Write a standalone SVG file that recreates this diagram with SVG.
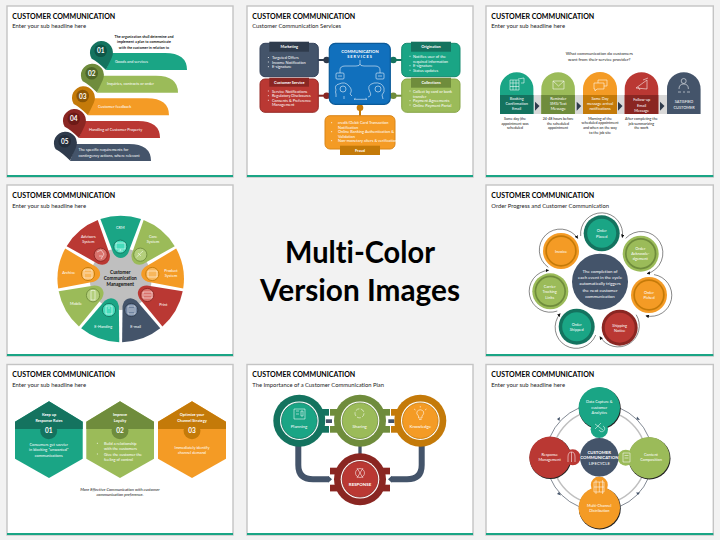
<svg xmlns="http://www.w3.org/2000/svg" width="720" height="540" viewBox="0 0 720 540">
<style>
text{font-family:"Lato","Open Sans","Liberation Sans",sans-serif;dominant-baseline:central;font-variant-ligatures:none}
.f{fill:#fff;stroke:#c4c4c4;stroke-width:1.4}
.t{font-size:7px;font-weight:700;fill:#000}
.s{font-size:6.2px;fill:#1a1a1a}
.c{text-anchor:middle}
.w{fill:#fff;font-size:3.9px}
.w5{fill:#fff;font-size:4.4px}
.k{fill:#111;font-size:3.6px}
.b{font-weight:700}
.ic{fill:none;stroke:#fff;stroke-width:.55}
.bar{fill:#1aa585}
.tl{fill:#1aa585}.td{fill:#14735f}
.gn{fill:#9bbb59}.gd{fill:#6f8c3c}
.or{fill:#f49b25}.od{fill:#c47a09}
.rd{fill:#ba3833}.rk{fill:#8a2622}
.nv{fill:#44546a}.nk{fill:#2f3b4c}
.lk{stroke:#44546a;fill:none}
.arc{fill:none;stroke:#111;stroke-width:.5}
</style>
<defs>
<marker id="ah" viewBox="0 0 6 6" refX="5" refY="3" markerWidth="3.500" markerHeight="3.500" orient="auto" markerUnits="userSpaceOnUse"><path d="M0 0L6 3L0 6Z" fill="#111"/></marker>
<path id="tag" d="M0 0L6 -17H59Q81 -17 81 0Z"/>
<path id="pin" d="M-9 8Q-3 11 5.300 19.300L11 7A11.500 11.500 0 1 0 -9 8Z"/>
<path id="wedge" d="M-20.300 -59.900A63.300 63.300 0 0 1 20.300 -59.900L7.500 -26Q4.500 -21 0 -21Q-4.500 -21 -7.500 -26Z"/>
</defs>
<rect width="720" height="540" fill="#f2f2f2"/>

<g id="slide1">
<rect class="f" x="7" y="6" width="226" height="171"/><rect class="bar" x="7" y="175" width="226" height="2"/>
<text class="t" x="12.300" y="16" textLength="103" lengthAdjust="spacingAndGlyphs">CUSTOMER COMMUNICATION</text><text class="s" x="12.300" y="25.700" textLength="73.700" lengthAdjust="spacingAndGlyphs">Enter your sub headline here</text>
<text class="k b c" x="144" y="36.300">The organization shall determine and</text>
<text class="k b c" x="144" y="41.700">implement a plan to communicate</text>
<text class="k b c" x="144" y="47">with the customer in relation to</text>
<g id="s1n5"><use href="#tag" x="70" y="161" class="nv"/><use href="#pin" x="64.700" y="141.300" class="nk"/><circle cx="64.700" cy="141.300" r="6.300" fill="#232d3b"/><text class="c" x="64.700" y="141.300" fill="#fff" font-size="6.500" font-weight="700">05</text><text class="w" x="78.500" y="149.700">The specific requirements for</text><text class="w" x="78.500" y="155">contingency actions, where relevant</text></g>
<g id="s1n4"><use href="#tag" x="79" y="138" class="rd"/><use href="#pin" x="73.700" y="118.700" class="rk"/><circle cx="73.700" cy="118.700" r="6.300" fill="#6c1a17"/><text class="c" x="73.700" y="118.700" fill="#fff" font-size="6.500" font-weight="700">04</text><text class="w" x="89" y="129">Handling of Customer Property</text></g>
<g id="s1n3"><use href="#tag" x="88" y="115.300" class="or"/><use href="#pin" x="82.700" y="96" class="od"/><circle cx="82.700" cy="96" r="6.300" fill="#8d5705"/><text class="c" x="82.700" y="96" fill="#fff" font-size="6.500" font-weight="700">03</text><text class="w" x="98" y="106.300">Customer feedback</text></g>
<g id="s1n2"><use href="#tag" x="97" y="92.700" class="gn"/><use href="#pin" x="91.700" y="73.300" class="gd"/><circle cx="91.700" cy="73.300" r="6.300" fill="#4f6729"/><text class="c" x="91.700" y="73.300" fill="#fff" font-size="6.500" font-weight="700">02</text><text class="w" x="107" y="83.700">Inquiries, contracts or order</text></g>
<g id="s1n1"><use href="#tag" x="106" y="70" class="tl"/><use href="#pin" x="100.700" y="50.700" class="td"/><circle cx="100.700" cy="50.700" r="6.300" fill="#0e5647"/><text class="c" x="100.700" y="50.700" fill="#fff" font-size="6.500" font-weight="700">01</text><text class="w" x="115" y="61.300">Goods and services</text></g>
</g>

<g id="slide2" transform="translate(240,0)">
<rect class="f" x="7" y="6" width="226" height="171"/><rect class="bar" x="7" y="175" width="226" height="2"/>
<text class="t" x="12.300" y="16" textLength="103" lengthAdjust="spacingAndGlyphs">CUSTOMER COMMUNICATION</text><text class="s" x="12.300" y="25.700" textLength="88.700" lengthAdjust="spacingAndGlyphs">Customer Communication Services</text>
<g id="s2links" fill="none" stroke-width="2">
<path d="M78 60H90" stroke="#2f3b4c"/><circle cx="86.700" cy="60" r="3.300" fill="#2f3b4c"/>
<path d="M78 95.700H90" stroke="#8a2622"/><circle cx="86.700" cy="95.700" r="3.300" fill="#8a2622"/>
<path d="M150 60H162" stroke="#14735f"/><circle cx="153.300" cy="60" r="3.300" fill="#14735f"/>
<path d="M150 95.700H162" stroke="#6f8c3c"/><circle cx="153.300" cy="95.700" r="3.300" fill="#6f8c3c"/>
<path d="M120 104V116" stroke="#c47a09"/><circle cx="120" cy="107.700" r="3.300" fill="#c47a09"/>
</g>
<g id="s2market"><rect x="20" y="43.300" width="58.300" height="33.400" rx="5" class="nv" stroke="#34425a" stroke-width="1"/><rect x="29.300" y="41.700" width="39.700" height="10" class="nk"/><text class="w b c" x="49.300" y="46.500">Marketing</text>
<text class="w" x="32" y="57.500">Targeted Offers</text><text class="w" x="32" y="62">Income Notification</text><text class="w" x="32" y="66.700">E-signature</text><path d="M28.300 57.500h.01M28.300 62h.01M28.300 66.700h.01" stroke="#fff" stroke-width="1" stroke-linecap="round"/></g>
<g id="s2service"><rect x="20" y="79" width="58.300" height="33.300" rx="5" class="rd" stroke="#962a26" stroke-width="1"/><rect x="29.300" y="77.700" width="39.700" height="9" class="rk"/><text class="w b c" x="49.300" y="82">Customer Service</text>
<text class="w" x="32" y="91">Service Notifications</text><text class="w" x="32" y="95.700">Regulatory Disclosures</text><text class="w" x="32" y="100.300">Consents &amp; Preference</text><text class="w" x="32" y="104.700">Management</text><path d="M28.300 91h.01M28.300 95.700h.01M28.300 100.300h.01" stroke="#fff" stroke-width="1" stroke-linecap="round"/></g>
<g id="s2center"><rect x="89.300" y="43.300" width="61" height="61" rx="6" fill="#1170bd" stroke="#0b5a99" stroke-width="1.200"/>
<text class="w b c" x="120" y="51.300" style="font-size:4.200px">COMMUNICATION</text><text class="w b c" x="120" y="56.700" letter-spacing="1">SERVICES</text>
<path class="ic" d="M120 60V64M120 64Q120 66 116 66H105Q100 66 100 70V73M120 64Q120 66 124 66H135Q140 66 140 70V73"/>
<rect class="ic" x="96" y="73" width="8" height="6" rx="1"/><rect class="ic" x="136" y="73" width="8" height="6" rx="1"/><path class="ic" d="M98 76h4M138 76h4"/>
<path class="ic" d="M96 97V94Q95 92 96 90Q94 85 99 84Q105 81 109 86Q113 90 110 94L112 96M104 99V96M128 97Q132 96 130 92Q126 85 134 83Q142 82 144 88Q145 92 142 95L143 99"/>
<circle class="ic" cx="103" cy="89" r="3"/><circle class="ic" cx="138" cy="89" r="3"/>
<path class="ic" d="M114 99.300H127M114 99.300l1.500-1M127 99.300l-1.500-1"/></g>
<g id="s2orig"><rect x="161.700" y="43.300" width="58.300" height="33.400" rx="5" class="tl" stroke="#148a6f" stroke-width="1"/><rect x="171" y="41.700" width="40" height="10" class="td"/><text class="w b c" x="191" y="46.500">Origination</text>
<text class="w" x="173" y="56.300">Notifies user of the</text><text class="w" x="173" y="61">required information</text><text class="w" x="173" y="65.700">E-signature</text><text class="w" x="173" y="70.300">Status updates</text><path d="M170 56.300h.01M170 65.700h.01M170 70.300h.01" stroke="#fff" stroke-width="1" stroke-linecap="round"/></g>
<g id="s2coll"><rect x="161.700" y="79" width="58.300" height="33.300" rx="5" class="gn" stroke="#86a546" stroke-width="1"/><rect x="171" y="77.700" width="40" height="10" class="gd"/><text class="w b c" x="191" y="82.500">Collections</text>
<text class="w" x="173" y="91">Collect by card or bank</text><text class="w" x="173" y="96">transfer</text><text class="w" x="173" y="100.700">Payment Agreements</text><text class="w" x="173" y="105">Online Payment Portal</text><path d="M170 91h.01M170 100.700h.01M170 105h.01" stroke="#fff" stroke-width="1" stroke-linecap="round"/></g>
<g id="s2fraud"><rect x="85" y="115.700" width="70" height="33.300" rx="5" class="or" stroke="#d9861a" stroke-width="1"/><rect x="100" y="145.700" width="40" height="9.300" class="od"/><text class="w b c" x="120" y="150.300">Fraud</text>
<text class="w" x="98" y="122.700">credit/Debit Card Transaction</text><text class="w" x="98" y="127.300">Notification</text><text class="w" x="98" y="131.700">Online Banking Authentication &amp;</text><text class="w" x="98" y="136.300">Validation</text><text class="w" x="98" y="140.700">Non-monetary alters &amp; verification</text><path d="M91.700 122.700h.01M91.700 131.700h.01M91.700 140.700h.01" stroke="#fff" stroke-width="1" stroke-linecap="round"/></g>
</g>

<g id="slide3" transform="translate(480,0)">
<rect class="f" x="6" y="6" width="227.300" height="171"/><rect class="bar" x="6" y="175" width="227.300" height="2"/>
<text class="t" x="11.300" y="16" textLength="103" lengthAdjust="spacingAndGlyphs">CUSTOMER COMMUNICATION</text><text class="s" x="11.300" y="25.700" textLength="73.700" lengthAdjust="spacingAndGlyphs">Enter your sub headline here</text>
<text class="c" x="119.300" y="53" font-size="4.300" fill="#222">What communication do customers</text><text class="c" x="119.300" y="59" font-size="4.300" fill="#222">want from their service provider?</text>
<rect id="s3band" x="20" y="95" width="200" height="19" fill="#d9d9d9"/>
<g id="s3n1"><path class="tl" d="M20 114V89A16.700 16.700 0 0 1 53.400 89V114Z"/><rect class="td" x="20" y="95" width="33.400" height="19"/><text class="w c" x="36.700" y="98.300">Booking</text><text class="w c" x="36.700" y="103.700">Confirmation</text><text class="w c" x="36.700" y="108.700">Email</text>
<path class="ic" d="M30 80H39V90H30ZM30 83H39M33 80V90M36 80V90M30 86.500H39M38 79L44 78V83H41"/></g>
<g id="s3n2"><path class="gn" d="M61.300 114V89A16.800 16.800 0 0 1 94.900 89V114Z"/><rect class="gd" x="61.300" y="95" width="33.600" height="19"/><text class="w c" x="78.300" y="98.300">Reminder</text><text class="w c" x="78.300" y="103.700">SMS/Text</text><text class="w c" x="78.300" y="108.700">Message</text>
<path class="ic" d="M73 81H84V89H73ZM73 81L78.500 86L84 81"/></g>
<g id="s3n3"><path class="or" d="M103 114V89A17 17 0 0 1 137 89V114Z"/><rect class="od" x="103" y="95" width="34" height="19"/><text class="w c" x="120" y="98.300">Same Day</text><text class="w c" x="120" y="103.700">message arrival</text><text class="w c" x="120" y="108.700">notifications</text>
<path class="ic" d="M114 83H124V89H117L115 91V89H114ZM118 83V80H127V86H124"/></g>
<g id="s3n4"><path class="rd" d="M144.700 114V89A16.800 16.800 0 0 1 178.300 89V114Z"/><rect class="rk" x="144.700" y="95" width="33.600" height="19"/><text class="w c" x="161.700" y="99.700">Follow-up</text><text class="w c" x="161.700" y="105">Email</text><text class="w c" x="161.700" y="110.300">Message</text>
<path class="ic" d="M156 88L167 80V89ZM158 87L160 90M163 80L168 78"/></g>
<g id="s3n5"><path class="nv" d="M187 114V89A16.800 16.800 0 0 1 220.600 89V114Z"/><text class="w c" x="204" y="101.300">SATISFIED</text><text class="w c" x="204" y="107.300">CUSTOMER</text>
<circle class="ic" cx="203.700" cy="81" r="2.500"/><path class="ic" d="M199 89Q199 84 203.700 84Q208.400 84 208.400 89M198 92h3M203 92h2M207 92h3"/></g>
<g id="s3links"><path class="nk" d="M55 101.700L59.500 106L55 110.700Z"/><path class="nk" d="M96.700 101.700L101.200 106L96.700 110.700Z"/><path class="nk" d="M138 101.700L142.500 106L138 110.700Z"/><path class="nk" d="M180 101.700L184.500 106L180 110.700Z"/></g>
<text class="k c" x="35" y="118.300">Same day (the</text><text class="k c" x="35" y="123">appointment was</text><text class="k c" x="35" y="127.700">scheduled</text>
<text class="k c" x="78" y="118.300">24-48 hours before</text><text class="k c" x="78" y="123">the scheduled</text><text class="k c" x="78" y="127.700">appointment</text>
<text class="k c" x="120" y="118.300">Morning of the</text><text class="k c" x="120" y="122.700">scheduled appointment</text><text class="k c" x="120" y="127.300">and when on  the way</text><text class="k c" x="120" y="132">to the job site</text>
<text class="k c" x="161.300" y="118.300">After completing the</text><text class="k c" x="161.300" y="123">job summarizing</text><text class="k c" x="161.300" y="127.700">the work</text>
</g>

<g id="slide4" transform="translate(0,180)">
<rect class="f" x="7" y="5" width="226" height="171"/><rect class="bar" x="7" y="174" width="226" height="2"/>
<text class="t" x="12.300" y="15" textLength="103" lengthAdjust="spacingAndGlyphs">CUSTOMER COMMUNICATION</text><text class="s" x="12.300" y="25" textLength="73.700" lengthAdjust="spacingAndGlyphs">Enter your sub headline here</text>
<g transform="translate(120.700,99)">
<circle r="31" fill="#bfbfbf"/>
<use href="#wedge" class="tl"/><use href="#wedge" class="gn" transform="rotate(40)"/><use href="#wedge" class="or" transform="rotate(80)"/><use href="#wedge" class="rd" transform="rotate(120)"/><use href="#wedge" class="nv" transform="rotate(160)"/><use href="#wedge" class="tl" transform="rotate(200)"/><use href="#wedge" class="gn" transform="rotate(240)"/><use href="#wedge" class="or" transform="rotate(280)"/><use href="#wedge" class="rd" transform="rotate(320)"/>
</g>
<g id="s4icons" stroke-width=".9">
<circle cx="120.300" cy="66.700" r="6.600" fill="#45dcbb" stroke="#14735f"/><circle cx="140.300" cy="74.700" r="6.600" fill="#b4cf7c" stroke="#6f8c3c"/><circle cx="152.300" cy="94" r="6.600" fill="#f8b75c" stroke="#c47a09"/><circle cx="147.300" cy="115" r="6.600" fill="#d9726c" stroke="#8a2622"/><circle cx="131.300" cy="130" r="6.600" fill="#6f83a0" stroke="#2f3b4c"/><circle cx="109" cy="130" r="6.600" fill="#45dcbb" stroke="#14735f"/><circle cx="93" cy="115.300" r="6.600" fill="#b4cf7c" stroke="#6f8c3c"/><circle cx="88" cy="94" r="6.600" fill="#f8b75c" stroke="#c47a09"/><circle cx="100.700" cy="74.700" r="6.600" fill="#d9726c" stroke="#8a2622"/>
<path class="ic" d="M116 63H125V69H116ZM120.300 69V71M118 71H123M136.500 77L143 71M138 73L141 76M148 91H157V97H148ZM143 112H152V118H143ZM144 115H151M128 126H135V134H128ZM129 129H134M129 131H134M106 126H112V134H106ZM108 128H110M91 110.500H95V120H91ZM84 90H92V98H84ZM85 93H91M97 72L101 70L104 74L101 79M99 76L102 76"/>
</g>
<g id="s4labels"><text class="w c" x="120.300" y="47">CRM</text><text class="w c" x="153" y="56">Core</text><text class="w c" x="153" y="61.300">System</text><text class="w c" x="171" y="90">Product</text><text class="w c" x="171" y="95.300">System</text><text class="w c" x="163.300" y="124">Print</text><text class="w c" x="135.700" y="146.300">E-mail</text><text class="w c" x="103.300" y="146.300">E-Handing</text><text class="w c" x="76" y="123">Mobile</text><text class="w c" x="68.700" y="92">Archive</text><text class="w c" x="88.300" y="56">Advisors</text><text class="w c" x="88.300" y="61.300">System</text>
<text class="c b" x="120.300" y="92" font-size="4.700" fill="#111">Customer</text><text class="c b" x="120.300" y="97.700" font-size="4.700" fill="#111">Communication</text><text class="c b" x="120.300" y="103.700" font-size="4.700" fill="#111">Management</text></g>
</g>

<g id="center-note"><text class="c b" x="360" y="251" font-size="29.500" fill="#000" textLength="150" lengthAdjust="spacingAndGlyphs">Multi-Color</text><text class="c b" x="360" y="289" font-size="29.500" fill="#000" textLength="200" lengthAdjust="spacingAndGlyphs">Version Images</text></g>

<g id="slide5" transform="translate(480,180)">
<rect class="f" x="6" y="5" width="227.300" height="171"/><rect class="bar" x="6" y="174" width="227.300" height="2"/>
<text class="t" x="11.300" y="15" textLength="103" lengthAdjust="spacingAndGlyphs">CUSTOMER COMMUNICATION</text><text class="s" x="11.300" y="25" textLength="117.700" lengthAdjust="spacingAndGlyphs">Order Progress and Customer Communication</text>
<g id="s5arcs"><path class="arc" marker-end="url(#ah)" d="M100.700 56A21 21 0 1 1 142.300 57.300"/><path class="arc" marker-end="url(#ah)" d="M145.700 58.300A21.500 21.500 0 1 1 167.200 93.700"/><path class="arc" marker-end="url(#ah)" d="M174 94.600A21 21 0 1 1 166 135.800"/><path class="arc" marker-end="url(#ah)" d="M156.200 134.700A21 21 0 1 1 120 156.700"/><path class="arc" marker-end="url(#ah)" d="M115.700 155A21 21 0 1 1 80.100 133.800"/><path class="arc" marker-end="url(#ah)" d="M77.300 131A21 21 0 1 1 68.600 90.300"/><path class="arc" marker-end="url(#ah)" d="M68.300 87.300A21 21 0 1 1 97.700 58.300"/></g>
<g id="s5hub"><circle class="nv" cx="120" cy="101.700" r="28"/><text class="w5 c" x="120" y="91.300">The completion of</text><text class="w5 c" x="120" y="97.700">each event in the cycle</text><text class="w5 c" x="120" y="103.700">automatically triggers</text><text class="w5 c" x="120" y="110">the next customer</text><text class="w5 c" x="120" y="116">communication</text></g>
<g id="s5n1"><circle class="td" cx="121.700" cy="53.300" r="18"/><circle class="tl" cx="121.700" cy="53.300" r="14.500"/><text class="w c" x="121.700" y="50.700">Order</text><text class="w c" x="121.700" y="56">Placed</text></g>
<g id="s5n2"><circle class="gn" cx="160.700" cy="73.700" r="18"/><circle class="gd" cx="160.700" cy="73.700" r="15.700"/><circle class="gn" cx="160.700" cy="73.700" r="14"/><text class="w c" x="160.300" y="68">Order</text><text class="w c" x="160.300" y="73.300">Acknowle-</text><text class="w c" x="160.300" y="78.700">dgement</text></g>
<g id="s5n3"><circle class="or" cx="169" cy="115" r="18"/><circle class="od" cx="169" cy="115" r="15.700"/><circle class="or" cx="169" cy="115" r="14"/><text class="w c" x="169" y="112.300">Order</text><text class="w c" x="169" y="117.700">Picked</text></g>
<g id="s5n4"><circle class="rk" cx="139.700" cy="147.700" r="18"/><circle class="rd" cx="139.700" cy="147.700" r="15"/><text class="w c" x="139.700" y="145">Shipping</text><text class="w c" x="139.700" y="150.700">Notice</text></g>
<g id="s5n5"><circle class="td" cx="96.700" cy="146.700" r="18"/><circle class="tl" cx="96.700" cy="146.700" r="14.500"/><text class="w c" x="96.700" y="144">Order</text><text class="w c" x="96.700" y="149.300">Shipped</text></g>
<g id="s5n6"><circle class="gn" cx="70.300" cy="111.300" r="18"/><circle class="gd" cx="70.300" cy="111.300" r="15.700"/><circle class="gn" cx="70.300" cy="111.300" r="14"/><text class="w c" x="69.700" y="106">Carrier</text><text class="w c" x="69.700" y="111.700">Tracking</text><text class="w c" x="69.700" y="117">Links</text></g>
<g id="s5n7"><circle class="or" cx="81" cy="71" r="18"/><circle class="od" cx="81" cy="71" r="15.700"/><circle class="or" cx="81" cy="71" r="14"/><text class="w c" x="81" y="71">Invoice</text></g>
</g>

<g id="slide7" transform="translate(0,360)">
<rect class="f" x="7" y="4.500" width="226" height="170.500"/><rect class="bar" x="7" y="173" width="226" height="2"/>
<text class="t" x="12.300" y="14" textLength="103" lengthAdjust="spacingAndGlyphs">CUSTOMER COMMUNICATION</text><text class="s" x="12.300" y="24" textLength="73.700" lengthAdjust="spacingAndGlyphs">Enter your sub headline here</text>
<g id="s7n1"><path class="tl" d="M49 41.300L82.700 61.700V98.700L49 118L15 98.700V61.700Z"/><path class="td" d="M49 41.300L82.700 61.700V69H15V61.700Z"/><circle class="td" cx="48.700" cy="70.700" r="8.500"/><text class="c" x="48.700" y="70.700" fill="#fff" font-size="6.500" font-weight="700">01</text><text class="w b c" x="49" y="54.300">Keep up</text><text class="w b c" x="49" y="60.300">Response Rates</text><text class="w c" x="48.700" y="84.700">Consumers get savvier</text><text class="w c" x="48.700" y="89.700">in blocking "unwanted"</text><text class="w c" x="48.700" y="95">communications</text></g>
<g id="s7n2"><path class="gn" d="M120 41.300L154 61.700V98.700L120 118L86.300 98.700V61.700Z"/><path class="gd" d="M120 41.300L154 61.700V69H86.300V61.700Z"/><circle class="gd" cx="120" cy="70.700" r="8.500"/><text class="c" x="120" y="70.700" fill="#fff" font-size="6.500" font-weight="700">02</text><text class="w b c" x="120" y="54.300">Improve</text><text class="w b c" x="120" y="60.300">Loyalty</text><text class="w" x="104" y="83.300">Build a relationship</text><text class="w" x="104" y="88.700">with the customers</text><text class="w" x="104" y="94">Give the customer the</text><text class="w" x="104" y="99">feeling of control</text><path d="M97.300 83.300h.01M97.300 94h.01" stroke="#fff" stroke-width="1" stroke-linecap="round"/></g>
<g id="s7n3"><path class="or" d="M192 41.300L226 61.700V98.700L192 118L158 98.700V61.700Z"/><path class="od" d="M192 41.300L226 61.700V69H158V61.700Z"/><circle class="od" cx="192" cy="70.700" r="8.500"/><text class="c" x="192" y="70.700" fill="#fff" font-size="6.500" font-weight="700">03</text><text class="w b c" x="192" y="54.300">Optimize your</text><text class="w b c" x="192" y="60.300">Channel Strategy</text><text class="w c" x="192" y="87.300">Immediately identify</text><text class="w c" x="192" y="92.300">channel demand</text></g>
<text class="c" x="120" y="129.300" font-size="4.200" font-style="italic" fill="#111">More Effective Communication with customer</text><text class="c" x="120" y="134.700" font-size="4.200" font-style="italic" fill="#111">communication preference.</text>
</g>

<g id="slide8" transform="translate(240,360)">
<rect class="f" x="7" y="4.500" width="226" height="170.500"/><rect class="bar" x="7" y="173" width="226" height="2"/>
<text class="t" x="12.300" y="14" textLength="103" lengthAdjust="spacingAndGlyphs">CUSTOMER COMMUNICATION</text><text class="s" x="12.300" y="24" textLength="131.700" lengthAdjust="spacingAndGlyphs">The Importance of a Customer Communication Plan</text>
<g id="s8links">
<path class="lk" stroke-width="6" d="M58.300 85V105Q58.300 119.300 73 119.300H89"/><path class="lk" stroke-width="6" d="M181.700 85V105Q181.700 119.300 167 119.300H151"/>
<path class="nv" d="M88.500 116L92 119.300L88.500 122.600ZM151.500 116L148 119.300L151.500 122.600Z"/>
<path class="lk" stroke-width="3.300" d="M120 85V95"/>
<rect class="nv" x="86" y="59.300" width="6" height="3.700"/><rect class="nv" x="148.300" y="59.300" width="6" height="3.700"/>
</g>
<g id="s8n1"><rect class="td" x="70" y="49" width="19" height="6.700"/><rect class="td" x="70" y="66" width="19" height="6.700"/><circle class="td" cx="59.300" cy="60.700" r="26"/><circle cx="59.300" cy="60.700" r="19.300" fill="#fff"/><circle class="tl" cx="59.300" cy="60.700" r="17.800" stroke="#14735f" stroke-width=".8"/><text class="w5 c" x="59" y="66">Planning</text><path class="ic" d="M54 49H65V59H54ZM56 51h3M56 54h3M61 51h2v5h-2z"/></g>
<g id="s8n2"><rect class="gd" x="90" y="49" width="60" height="6.700"/><rect class="gd" x="90" y="66" width="60" height="6.700"/><circle class="gd" cx="120" cy="60.700" r="26"/><circle cx="120" cy="60.700" r="19.300" fill="#fff"/><circle class="gn" cx="120" cy="60.700" r="17.800" stroke="#6f8c3c" stroke-width=".8"/><text class="w5 c" x="119.700" y="66">Sharing</text><circle class="ic" cx="119.500" cy="53.300" r="4.500" stroke-dasharray="4 1.500"/></g>
<g id="s8n3"><rect class="od" x="151" y="49" width="19" height="6.700"/><rect class="od" x="151" y="66" width="19" height="6.700"/><circle class="od" cx="180.300" cy="60.700" r="26"/><circle cx="180.300" cy="60.700" r="19.300" fill="#fff"/><circle class="or" cx="180.300" cy="60.700" r="17.800" stroke="#c47a09" stroke-width=".8"/><text class="w5 c" x="180.300" y="66">Knowledge</text><path class="ic" d="M178.500 58V56Q176 54 177 51.500Q180.300 48 183.500 51.500Q184.500 54 182 56V58ZM179 59.500h2.600M174 49l1.500 1M186.500 49l-1.500 1M180.300 46v1.500"/></g>
<g id="s8n4"><rect class="rk" x="90" y="107.700" width="60" height="6.700"/><rect class="rk" x="90" y="124.700" width="60" height="6.700"/><circle class="rk" cx="120" cy="119.300" r="26"/><circle cx="120" cy="119.300" r="19.300" fill="#fff"/><circle class="rd" cx="120" cy="119.300" r="17.800" stroke="#8a2622" stroke-width=".8"/><text class="w5 b c" x="120" y="124.700">RESPONSE</text><circle class="ic" cx="120" cy="113" r="4.500"/><path class="ic" d="M117 108L123 118M123 108L117 118"/></g>
</g>

<g id="slide9" transform="translate(480,360)">
<rect class="f" x="6" y="4.500" width="227.300" height="170.500"/><rect class="bar" x="6" y="173" width="227.300" height="2"/>
<text class="t" x="11.300" y="14" textLength="103" lengthAdjust="spacingAndGlyphs">CUSTOMER COMMUNICATION</text><text class="s" x="11.300" y="24" textLength="73.700" lengthAdjust="spacingAndGlyphs">Enter your sub headline here</text>
<g id="s9links"><circle cx="119.300" cy="97.300" r="46.700" fill="none" stroke="#bfbfbf" stroke-width="1.500"/><circle cx="119.300" cy="97.300" r="53.300" fill="none" stroke="#2f3b4c" stroke-width=".6"/>
<path class="nv" d="M80 57L77 59L79.500 61ZM157 56.500L160 60L156.500 59.500ZM79 132L81 135.500L77 134ZM158 135L156 132.500L160 132.500Z"/></g>
<g id="s9n1"><circle cx="119.800" cy="48.400" r="21" fill="#222"/><circle class="tl" cx="119.300" cy="47.700" r="20.700"/><circle class="tl" cx="119.300" cy="69.300" r="8.700"/><text class="w c" x="119.300" y="41.700">Data Capture &amp;</text><text class="w c" x="119.300" y="47.300">customer</text><text class="w c" x="119.300" y="52.700">Analytics</text><path class="ic" d="M115 69L121 63M115 64L123 70M119 70a3 3 0 1 0 4 -4"/></g>
<g id="s9n2"><circle cx="169.500" cy="98.400" r="21" fill="#222"/><circle class="gn" cx="169" cy="97.700" r="20.700"/><circle class="gn" cx="145.700" cy="97.700" r="8"/><text class="w c" x="171" y="94.300">Content</text><text class="w c" x="171" y="99.700">Composition</text><path class="ic" d="M143 93H150V102H143ZM144.500 95.500H148.500M144.500 98H148.500"/></g>
<g id="s9n3"><circle cx="119.800" cy="148.400" r="21" fill="#222"/><circle class="or" cx="119.300" cy="147.700" r="20.700"/><circle class="or" cx="119.300" cy="125" r="8.500"/><text class="w c" x="119.300" y="145">Multi-Channel</text><text class="w c" x="119.300" y="150.300">Distribution</text><path class="ic" d="M114 122H124V132H114ZM119.300 122V132M114 127H124M116 120V134M122.600 120V134"/></g>
<g id="s9n4"><circle cx="70.500" cy="98" r="21" fill="#222"/><circle class="rd" cx="70" cy="97.300" r="20.700"/><circle class="rd" cx="92.700" cy="97.300" r="8"/><text class="w c" x="69.700" y="94.300">Response</text><text class="w c" x="69.700" y="99.700">Management</text><path class="ic" d="M88 102V97Q88 92 91.500 92Q95 92 95 97V102M91.500 92V102"/></g>
<g id="s9hub"><circle class="nv" cx="119.300" cy="97.300" r="19.300"/><text class="w b c" x="119.300" y="92.300" style="font-size:4.300px">CUSTOMER</text><text class="w b c" x="119.300" y="97.700" style="font-size:4.300px">COMMUNICATION</text><text class="w c" x="119.300" y="103" style="font-size:4.300px">LIFECYCLE</text></g>
</g>
</svg>
